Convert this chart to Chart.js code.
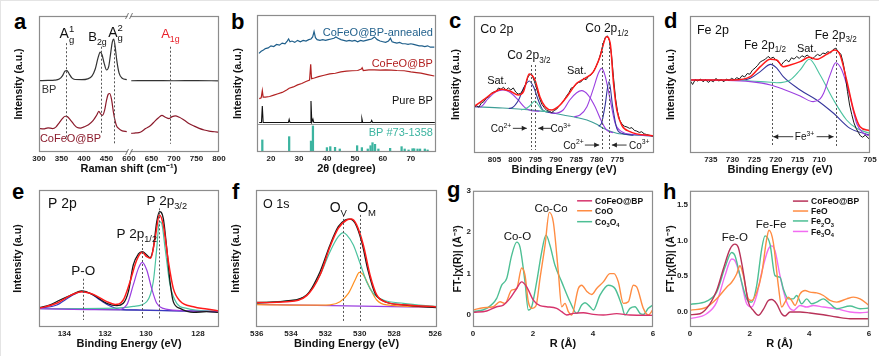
<!DOCTYPE html>
<html><head><meta charset="utf-8">
<script src="https://cdn.jsdelivr.net/npm/chart.js@4.4.1/dist/chart.umd.min.js"></script>
<style>
html,body{margin:0;padding:0;background:#fff;}
body{width:879px;height:356px;position:relative;overflow:hidden;font-family:'Liberation Sans',Arial,sans-serif;}
canvas{position:absolute;}
.edge{position:absolute;left:0;top:0;width:879px;height:356px;border-top:1px solid #e4e4e4;border-left:1px solid #e4e4e4;box-sizing:border-box;}
.lt{position:absolute;font-weight:bold;font-size:22px;line-height:1;color:#000;font-family:'Liberation Sans',Arial,sans-serif;}
</style></head><body>
<div class="edge"></div>
<div class="lt" style="left:14px;top:11px">a</div>
<div class="lt" style="left:231px;top:11px">b</div>
<div class="lt" style="left:449px;top:10px">c</div>
<div class="lt" style="left:664px;top:10px">d</div>
<div class="lt" style="left:12px;top:181px">e</div>
<div class="lt" style="left:232px;top:181px">f</div>
<div class="lt" style="left:447px;top:179px">g</div>
<div class="lt" style="left:663px;top:181px">h</div>
<script>
// ---------------- DATA ----------------
// (a) Raman: x = Raman shift (cm-1), y = intensity (a.u., offset)
const aBPleft = [[300,52.5],[320,52.6],[335,52.8],[345,53.6],[352,56],[358,59.5],[362,59.8],[367,57.5],[373,54.5],[380,53.3],[395,53.2],[408,53.8],[418,56],[425,61],[431,69],[436,73.5],[440,71.5],[445,65],[450,60.3],[455,63],[459,72],[463,81],[466,83],[469,78],[473,67],[478,58],[485,54.2],[495,53.2]];
const aBPright = [[605,52.4],[650,52.5],[700,52.4],[750,52.5],[800,52.3]];
const aCoLeft = [[300,17.4],[310,17.0],[320,17.8],[330,17.2],[338,18.5],[345,21.5],[352,24.5],[358,26.3],[363,26],[370,23.5],[377,20.5],[385,18],[392,17.6],[400,18.5],[410,20],[420,23],[428,27],[433,29.8],[437,28],[441,27],[446,31],[450,38],[454,42.5],[457,43],[461,39],[466,28],[472,19.5],[478,17],[485,15.5],[495,15]];
const aCoRight = [[605,13.7],[615,14],[625,14.5],[637,17.2],[648,19.5],[657,22.5],[665,25],[673,26.9],[681,25.6],[689,24.6],[696,26],[703,26.6],[712,25.5],[722,23.5],[733,21],[745,19],[756,17.4],[767,16.2],[778,15.4],[790,14.9],[800,14.5]];
const aTicks = [300,350,400,450,600,650,700,750,800];

// (b) XRD: x = 2theta (deg)
const bAnnealed = [[15.7,72.0],[16.5,73.5],[17.3,74.5],[18.0,75.5],[19.0,76.0],[20.0,77.5],[21.0,77.0],[22.0,78.5],[23.0,78.0],[24.0,79.5],[25.0,79.0],[25.8,81.0],[26.3,82.5],[26.8,80.5],[27.5,81.0],[28.5,80.0],[29.5,81.5],[30.5,80.5],[31.5,81.5],[32.5,81.0],[33.5,82.0],[34.3,82.5],[34.9,84.0],[35.4,88.0],[35.9,83.5],[36.5,82.0],[37.5,81.5],[38.5,82.0],[39.5,81.5],[40.5,82.0],[41.5,82.5],[42.5,83.0],[43.2,84.0],[44.0,83.0],[45.0,82.0],[46.0,81.5],[47.0,81.0],[48.0,81.5],[49.0,81.0],[50.0,81.5],[51.0,80.5],[52.0,81.5],[53.0,81.0],[54.0,81.5],[55.0,82.0],[56.0,82.5],[57.0,84.0],[58.0,82.0],[59.0,81.0],[60.0,80.5],[61.0,80.0],[62.0,81.0],[62.7,83.0],[63.3,80.5],[64.0,80.0],[65.0,79.5],[66.0,80.0],[67.0,79.0],[68.0,79.0],[69.0,78.5],[70.0,79.0],[71.0,78.5],[72.0,78.0],[73.0,77.5],[74.0,77.5],[75.0,77.0],[76.0,77.5],[77.0,76.5],[78.4,76.5]];
const bCoFeO = [[15.8,39.0],[16.5,39.5],[16.9,44.8],[17.2,40.0],[18.0,40.0],[19.5,40.5],[21.0,41.5],[22.5,42.5],[24.0,43.5],[25.6,45.3],[26.5,46.5],[28.0,47.5],[29.5,49.0],[31.0,50.0],[32.5,51.5],[33.8,52.5],[34.2,64.0],[34.5,53.5],[35.5,54.0],[37.0,55.0],[39.0,56.0],[41.0,57.0],[43.0,57.5],[45.0,58.5],[47.0,59.0],[49.0,59.3],[51.0,59.5],[52.3,60.5],[52.6,61.5],[53.0,59.5],[55.0,60.0],[57.0,60.0],[59.0,59.8],[61.0,60.0],[63.0,59.8],[65.0,59.5],[67.6,59.3],[70.0,58.5],[72.0,58.0],[73.6,57.6],[76.0,56.5],[78.4,55.5]];
const bPureBP = [[15.8,21.5],[16.6,21.5],[16.9,33.6],[17.2,21.5],[26.2,21.5],[26.5,23.8],[26.8,21.5],[34.0,21.5],[34.3,37.2],[34.6,21.8],[35.0,24.0],[35.3,21.5],[52.2,21.5],[52.5,24.4],[52.8,21.5],[55.7,21.5],[56.0,23.0],[56.3,21.5],[78.6,21.5]];
const bRefSticks = [[16.9,8.8],[26.5,11.2],[34.3,8.0],[35.0,19.0],[40.0,3.2],[41.2,3.9],[42.9,3.4],[44.6,2.2],[50.8,4.6],[52.5,3.2],[54.6,2.2],[55.6,4.6],[56.3,6.8],[57.2,5.6],[58.4,2.2],[62.6,2.7],[66.7,3.9],[67.8,2.2],[69.2,1.5],[70.6,2.4],[71.2,2.4],[72.4,2.2],[73.3,2.2],[75.0,2.2],[76.0,1.5]];
const bTicks = [20,30,40,50,60,70];

// (c) Co 2p XPS: x = binding energy (eV)
const cRaw = [[810.0,33.0],[809.4,34.5],[808.8,33.5],[808.2,36.5],[807.6,37.5],[807.0,40.0],[806.4,41.0],[805.8,43.5],[805.2,44.5],[804.6,45.0],[804.0,47.5],[803.4,46.5],[802.8,48.0],[802.2,46.0],[801.6,47.5],[801.0,46.0],[800.4,47.5],[799.8,44.5],[799.2,43.0],[798.6,43.5],[798.0,46.0],[797.4,50.0],[796.8,55.5],[796.3,57.5],[795.8,57.0],[795.2,52.0],[794.6,46.0],[794.0,40.0],[793.4,35.5],[792.8,33.0],[792.2,31.0],[791.6,30.5],[791.0,29.5],[790.4,31.0],[789.8,32.0],[789.2,34.5],[788.6,36.0],[788.0,38.5],[787.4,41.5],[786.8,44.0],[786.2,47.5],[785.6,48.0],[785.0,50.5],[784.4,51.5],[783.8,52.0],[783.2,54.5],[782.6,53.5],[782.0,56.0],[781.4,57.0],[780.8,59.5],[780.2,63.0],[779.6,67.0],[779.0,73.0],[778.4,80.0],[777.9,84.5],[777.4,85.5],[776.9,82.0],[776.4,72.0],[775.9,55.0],[775.4,40.0],[774.9,30.0],[774.4,24.0],[773.8,21.0],[773.2,19.5],[772.6,19.0],[772.0,18.0],[771.4,18.5],[770.8,16.5],[770.2,16.0],[769.6,15.0],[769.0,15.5],[768.4,14.0],[767.8,13.5],[767.2,13.0],[766.0,12.0]];
const cFit = [[810.0,33.8],[807.7,38.7],[805.3,44.0],[803.2,46.5],[801.2,45.3],[799.2,42.3],[797.9,44.8],[796.5,57.7],[795.1,53.3],[793.9,41.1],[792.6,33.8],[791.0,31.4],[789.4,33.8],[787.3,41.1],[784.9,50.9],[782.9,54.5],[780.8,59.4],[779.2,70.3],[777.6,84.9],[776.7,80.0],[775.9,50.9],[775.1,31.4],[773.9,20.4],[771.9,15.6],[766.0,12.4]];
const cBackground = [[810.0,33.8],[803.0,32.8],[796.3,31.4],[792.0,30.0],[788.2,27.7],[785.0,26.0],[782.4,24.1],[780.0,21.0],[778.4,18.0],[775.1,14.4],[771.0,13.2],[766.0,12.4]];
const cSat1 = [[810.0,33.8],[808.5,33.6],[806.5,39.9],[804.5,44.8],[802.9,46.0],[800.9,43.6],[799.2,38.7],[797.6,33.3],[796.0,30.9],[794.0,30.5]];
const cPeak1 = [[801.5,32.5],[800.7,33.0],[799.1,38.7],[797.9,47.2],[796.5,52.6],[795.4,48.0],[794.3,38.7],[793.2,31.4],[791.4,29.5],[790.0,28.8]];
const cPeak2 = [[798.5,31.5],[797.4,32.3],[796.4,34.3],[795.1,38.0],[794.1,34.3],[793.2,31.0],[792.0,30.0]];
const cSat2 = [[791.5,29.5],[790.3,29.0],[788.2,31.4],[786.6,38.7],[784.9,44.0],[783.7,45.5],[782.1,42.3],[780.4,33.8],[778.8,22.9],[777.6,16.8],[776.0,14.8]];
const cPeak3 = [[785.5,26.5],[784.1,27.7],[782.4,33.8],[780.8,47.2],[779.6,58.2],[778.8,61.8],[778.0,56.9],[776.7,38.7],[775.5,21.7],[773.9,15.6],[771.0,13.5],[766.0,12.4]];
const cPeak4 = [[779.5,19.5],[778.8,22.0],[778.0,33.8],[777.0,52.1],[776.1,33.8],[775.1,18.0],[773.9,14.4],[771.0,13.0]];
const cTicks = [805,800,795,790,785,780,775];

// (d) Fe 2p XPS
const dRaw = [[739.8,53.0],[739.2,50.0],[738.6,53.5],[738.0,52.5],[737.4,54.0],[736.8,52.0],[736.2,53.5],[735.6,51.5],[735.0,53.0],[734.4,52.0],[733.8,54.5],[733.2,52.5],[732.6,53.5],[732.0,52.0],[731.4,54.0],[730.8,53.0],[730.2,54.5],[729.6,53.5],[729.0,55.0],[728.4,54.0],[727.8,56.5],[727.2,55.5],[726.6,58.0],[726.0,57.5],[725.4,60.5],[724.8,62.0],[724.2,64.0],[723.6,66.5],[723.0,67.5],[722.4,68.5],[721.8,70.5],[721.2,69.0],[720.6,70.0],[720.0,68.0],[719.4,66.5],[718.8,64.0],[718.2,66.5],[717.6,68.0],[717.0,66.5],[716.4,69.5],[715.8,68.5],[715.2,70.5],[714.6,69.0],[714.0,71.0],[713.4,70.0],[712.8,71.5],[712.2,70.0],[711.6,68.5],[711.0,70.5],[710.4,72.0],[709.8,71.0],[709.2,73.0],[708.6,72.5],[708.0,74.0],[707.4,73.0],[706.8,75.5],[706.2,76.5],[705.6,74.0],[705.0,72.0],[704.5,66.0],[704.0,57.0],[703.5,45.0],[703.0,35.0],[702.5,28.0],[702.0,22.0],[701.5,18.0],[701.0,15.0],[700.5,12.5],[700.0,11.5],[699.4,13.0],[698.4,10.0]];
const dFit = [[739.8,53.3],[729.8,53.3],[725.9,55.7],[723.6,63.0],[721.3,68.4],[719.8,67.9],[718.3,63.0],[716.7,64.2],[714.4,66.7],[712.3,69.8],[710.6,68.4],[708.3,72.0],[706.4,75.2],[705.2,71.5],[703.7,53.3],[702.1,31.4],[700.6,19.2],[698.4,16.3]];
const dPeak32 = [[739.8,53.3],[733.0,53.0],[725.9,52.1],[721.0,49.5],[718.3,46.5],[714.4,41.6],[711.4,37.5],[709.8,39.5],[709.0,43.6],[707.5,57.0],[706.2,65.9],[704.8,60.6],[702.9,41.1],[701.4,21.7],[699.8,14.4],[698.4,12.4]];
const dPeak12 = [[739.8,53.3],[727.5,53.3],[725.9,54.5],[723.6,59.4],[721.2,64.7],[719.8,62.0],[718.3,55.7],[714.4,46.0],[710.6,38.7],[706.7,29.0],[702.9,18.0],[699.8,14.4],[698.4,13.1]];
const dSat = [[728.0,53.3],[725.9,52.6],[722.0,51.8],[719.8,51.3],[716.7,53.3],[714.4,60.6],[712.3,68.4],[709.8,57.0],[706.7,38.7],[703.7,24.1],[701.4,18.0],[698.4,14.4]];
const dTicks = [735,730,725,720,715,710,705];

// (e) P 2p XPS
const eRaw = [[135.24,14.1],[134.70,16.1],[134.21,19.7],[133.72,22.9],[133.15,26.3],[132.58,23.4],[131.92,17.3],[131.43,15.6],[131.11,17.3],[130.86,25.8],[130.62,45.3],[130.37,53.3],[130.18,55.0],[129.96,52.6],[129.80,50.6],[129.64,57.4],[129.47,76.9],[129.34,84.2],[129.15,79.3],[128.98,57.4],[128.82,33.1],[128.66,18.5],[128.33,13.6],[127.67,10.7],[127.02,11.2],[126.42,10.7]];
const eFit = [[135.24,13.6],[134.37,17.3],[133.72,22.9],[133.15,25.8],[132.58,23.8],[131.92,18.5],[131.51,16.5],[131.11,19.7],[130.78,33.1],[130.45,48.9],[130.18,54.5],[129.96,51.3],[129.77,50.1],[129.55,64.7],[129.34,81.8],[129.15,74.5],[128.90,47.7],[128.66,28.2],[128.33,19.0],[127.67,14.8],[127.02,13.1],[126.42,11.7]];
const eBackground = [[135.24,13.6],[126.42,11.2]];
const ePO = [[135.24,13.6],[134.37,16.1],[133.72,22.1],[133.15,25.8],[132.74,24.6],[132.25,19.7],[131.76,15.3],[131.27,12.9],[130.29,12.4],[126.42,11.2]];
const eP12 = [[135.24,13.4],[131.43,12.6],[130.94,16.1],[130.62,30.7],[130.37,42.8],[130.18,47.2],[129.96,41.6],[129.72,28.2],[129.47,17.3],[129.15,13.6],[128.3,12.0],[126.42,11.2]];
const eP32 = [[135.24,13.4],[131.5,13.8],[130.62,15.0],[129.96,18.5],[129.64,33.1],[129.47,57.4],[129.34,76.9],[129.23,75.7],[129.06,57.4],[128.82,30.7],[128.49,17.3],[128.00,13.6],[126.42,11.2]];
const eTicks = [134,132,130,128];

// (f) O 1s XPS
const fRaw = [[536.04,17.5],[534.25,19.0],[533.09,23.4],[532.31,40.4],[531.73,59.9],[531.25,73.2],[530.86,78.1],[530.57,78.8],[530.27,75.7],[529.89,62.3],[529.50,40.4],[529.11,24.6],[528.62,19.0],[527.46,16.1],[525.5,14.1]];
const fFit = [[536.04,17.8],[534.25,18.5],[533.09,22.9],[532.31,38.0],[531.73,58.6],[531.25,72.0],[530.76,78.1],[530.47,78.8],[530.18,74.5],[529.79,59.9],[529.40,38.0],[529.01,23.4],[528.43,18.0],[527.27,16.1],[525.5,14.6]];
const fBackground = [[536.04,16.5],[525.5,14.3]];
const fOV = [[536.04,18.0],[534.25,19.0],[533.09,23.4],[532.31,38.0],[531.73,55.0],[531.25,65.9],[530.95,68.9],[530.76,67.2],[530.37,59.9],[529.98,46.5],[529.60,33.1],[529.21,24.6],[528.62,19.7],[527.46,17.3],[525.5,14.8]];
const fOM = [[536.04,16.4],[532.3,15.9],[531.73,16.2],[531.15,18.5],[530.66,24.6],[530.27,34.3],[530.02,39.9],[529.79,38.0],[529.40,28.2],[529.01,19.7],[528.43,16.1],[525.5,14.6]];
const fTicks = [536,534,532,530,528,526];

// (g) Co K-edge EXAFS: x = R (Å), y = FT magnitude
const gCoFeO = [[0,0.064],[0.456,0.096],[0.789,0.2],[1.011,0.24],[1.233,0.4],[1.456,0.64],[1.622,0.8],[1.789,0.68],[2.011,0.36],[2.233,0.224],[2.456,0.2],[2.789,0.16],[2.956,0.08],[3.122,0],[3.344,0.04],[3.678,0.056],[4.011,0.016],[4.344,0],[4.789,0.032],[5.233,0],[6,-0.008]];
const gCoO = [[0,0.12],[0.344,0.176],[0.678,0.2],[0.9,0.32],[1.067,0.28],[1.289,0.6],[1.456,0.64],[1.622,1.135],[1.733,0.96],[1.844,0.32],[1.956,0.16],[2.1,0.224],[2.233,0.88],[2.4,1.68],[2.544,2.48],[2.678,2.24],[2.844,1.04],[2.956,0.2],[3.067,0.28],[3.178,0.08],[3.289,0],[3.511,0.64],[3.622,0.72],[3.789,0.576],[3.956,0.496],[4.122,0.64],[4.344,0.8],[4.567,1.0],[4.7,1.0],[4.844,0.8],[5.011,0.28],[5.178,0.32],[5.344,0.72],[5.456,0.68],[5.678,0.16],[5.844,0],[5.989,0.12]];
const gCo3O4 = [[0,0.08],[0.456,0.16],[0.789,0.4],[0.956,0.72],[1.122,0.88],[1.289,1.44],[1.456,1.76],[1.567,1.64],[1.733,0.8],[1.844,0.12],[1.956,0.2],[2.122,0.8],[2.289,1.52],[2.433,1.93],[2.567,1.68],[2.733,1.2],[2.956,0.8],[3.233,0.32],[3.456,0.04],[3.622,0.24],[3.733,0.296],[3.9,0.2],[4.011,0.12],[4.233,0.48],[4.511,0.72],[4.733,0.64],[4.956,0.24],[5.067,0],[5.233,0.16],[5.4,0.2],[5.567,0.04],[5.678,0.016],[5.844,0.16],[5.989,0.24]];
const gXTicks = [0,2,4,6];
const gYTicks = [0,1,2,3];

// (h) Fe K-edge EXAFS
const hCoFeO = [[0,-0.047],[0.335,-0.033],[0.67,0.107],[0.894,0.294],[1.117,0.598],[1.341,0.878],[1.508,0.948],[1.62,0.901],[1.788,0.551],[1.955,0.131],[2.123,0.014],[2.291,-0.056],[2.458,0.028],[2.626,0.154],[2.738,0.168],[2.905,0.107],[3.073,-0.033],[3.185,-0.065],[3.352,-0.009],[3.688,-0.009],[4.023,-0.023],[4.47,-0.047],[4.917,-0.079],[5.364,-0.103],[6,-0.103]];
const hFeO = [[0,0.014],[0.559,0.061],[0.894,0.177],[1.229,0.341],[1.397,0.411],[1.564,0.528],[1.676,0.644],[1.788,0.504],[1.955,0.177],[2.067,0.154],[2.235,0.271],[2.403,0.528],[2.57,1.018],[2.648,1.144],[2.793,0.971],[2.961,0.364],[3.073,0.061],[3.185,0.131],[3.296,0.201],[3.408,0.154],[3.52,0.084],[3.688,0.247],[3.855,0.294],[4.023,0.271],[4.247,0.261],[4.47,0.224],[4.694,0.154],[4.917,0.131],[5.252,0.177],[5.476,0.201],[5.7,0.177],[6,0.084]];
const hFe2O3 = [[0,0.098],[0.559,0.145],[0.894,0.271],[1.173,0.621],[1.397,0.831],[1.508,0.784],[1.676,0.504],[1.9,0.177],[2.067,0.131],[2.235,0.364],[2.403,0.878],[2.514,1.064],[2.682,0.947],[2.849,0.504],[3.017,0.481],[3.129,0.317],[3.296,0.177],[3.464,0.177],[3.576,0.224],[3.743,0.107],[3.911,0.177],[4.079,0.107],[4.247,0.131],[4.47,0.177],[4.694,0.107],[4.917,0.037],[5.364,0.075],[5.7,0.037],[6,0.047]];
const hFe3O4 = [[0,-0.103],[0.559,-0.033],[0.894,0.131],[1.173,0.504],[1.397,0.738],[1.508,0.714],[1.676,0.504],[1.9,0.107],[2.067,0.061],[2.235,0.224],[2.403,0.551],[2.626,0.878],[2.738,0.924],[2.849,0.854],[3.017,0.504],[3.24,0.131],[3.464,0.014],[3.688,0.084],[3.911,0.061],[4.135,0.084],[4.47,0.061],[4.917,0.037],[5.364,-0.009],[5.7,-0.019],[6,-0.009]];
const hXTicks = [0,2,4,6];
const hYTicks = [0,0.5,1.0,1.5];

// ---------------- RENDERING ----------------
const NARROW = "'Liberation Sans Narrow','Arial Narrow','Liberation Sans',Arial,sans-serif";
const SANS = "'Liberation Sans',Arial,sans-serif";
const ANN = {};

function parseRich(s){
  const out=[]; let i=0, buf='';
  while(i<s.length){
    const c=s[i];
    if((c==='_'||c==='^') && s[i+1]==='{'){
      const j=s.indexOf('}',i); const inner=s.slice(i+2,j);
      if(buf){out.push({t:buf,k:'n'});buf='';}
      const last=out[out.length-1];
      if(last && last.k!=='n' && last.k!==c && !last.pair) last.pair={k:c,t:inner};
      else out.push({t:inner,k:c});
      i=j+1;
    } else {buf+=c;i++;}
  }
  if(buf) out.push({t:buf,k:'n'});
  return out;
}
function drawRich(ctx,s,x,y,size,weight,color,align){
  const segs=parseRich(s); const small=size*0.68;
  const fn=sz=>`${weight} ${sz}px ${SANS}`;
  let w=0; const ws=[];
  segs.forEach(g=>{ctx.font=fn(g.k==='n'?size:small); let sw=ctx.measureText(g.t).width; if(g.pair) sw=Math.max(sw,ctx.measureText(g.pair.t).width); ws.push(sw); w+=sw;});
  let cx = align==='left'?x:(align==='right'?x-w:x-w/2);
  ctx.fillStyle=color; ctx.textBaseline='alphabetic'; ctx.textAlign='left';
  const base=y+size*0.36;
  segs.forEach((g,i)=>{
    const dr=(k,t)=>{ctx.font=fn(k==='n'?size:small); const dy=k==='_'?size*0.3:(k==='^'?-size*0.42:0); ctx.fillText(t,cx,base+dy);};
    dr(g.k,g.t); if(g.pair) dr(g.pair.k,g.pair.t);
    cx+=ws[i];
  });
}
const annot = {
  id:'annot',
  afterDatasetsDraw(chart){
    const o=ANN[chart.canvas.id]||{}; const ctx=chart.ctx, xs=chart.scales.x, ys=chart.scales.y, ca=chart.chartArea;
    const X=v=>xs.getPixelForValue(v), Y=v=>ys.getPixelForValue(v);
    ctx.save();
    (o.hlines||[]).forEach(h=>{ctx.strokeStyle=h.c;ctx.lineWidth=1;ctx.beginPath();const py=Math.round(Y(h.y))+0.5;ctx.moveTo(ca.left,py);ctx.lineTo(ca.right,py);ctx.stroke();});
    (o.vlines||[]).forEach(l=>{ctx.strokeStyle='#555';ctx.lineWidth=1;ctx.setLineDash([2,2]);ctx.beginPath();const px=Math.round(X(l.x))+0.5;ctx.moveTo(px,Y(l.y0));ctx.lineTo(px,Y(l.y1));ctx.stroke();});
    ctx.setLineDash([]);
    (o.arrows||[]).forEach(a=>{const xa=X(a.x0),xb=X(a.x1),py=Y(a.y);ctx.strokeStyle='#222';ctx.fillStyle='#222';ctx.lineWidth=0.9;ctx.beginPath();ctx.moveTo(xa,py);ctx.lineTo(xb,py);ctx.stroke();const d=xb>xa?1:-1;ctx.beginPath();ctx.moveTo(xb,py);ctx.lineTo(xb-d*5,py-2.5);ctx.lineTo(xb-d*5,py+2.5);ctx.closePath();ctx.fill();});
    (o.texts||[]).forEach(t=>drawRich(ctx,t.s,X(t.x),Y(t.y),t.size||12,t.w||'normal',t.c||'#111',t.a||'center'));
    (o.legend||[]).forEach(g=>{ctx.strokeStyle=g.c;ctx.lineWidth=1.5;ctx.beginPath();ctx.moveTo(X(g.x0),Y(g.y));ctx.lineTo(X(g.x1),Y(g.y));ctx.stroke();drawRich(ctx,g.s,X(g.xt),Y(g.y),8.5,'bold','#111','left');});
    ctx.restore();
  },
  afterDraw(chart){
    const o=ANN[chart.canvas.id]||{}; const ctx=chart.ctx, ca=chart.chartArea;
    ctx.save(); ctx.strokeStyle='#8c8c8c'; ctx.lineWidth=1.2;
    ctx.strokeRect(ca.left+0.5,ca.top+0.5,ca.width-1,ca.height-1);
    if(o.brk!=null){
      const px=chart.scales.x.getPixelForValue(o.brk);
      [ca.top,ca.bottom].forEach(py=>{ctx.fillStyle='#fff';ctx.fillRect(px-1.5,py-2,3,4);ctx.strokeStyle='#555';ctx.lineWidth=0.8;ctx.beginPath();ctx.moveTo(px-3.5,py+3);ctx.lineTo(px-0.5,py-3);ctx.moveTo(px+0.5,py+3);ctx.lineTo(px+3.5,py-3);ctx.stroke();});
    }
    ctx.restore();
  }
};

function L(arr,color,w,fx,smooth){
  const ds={type:'line',data:arr.map(p=>({x:fx?fx(p[0]):p[0],y:p[1]})),borderColor:color,backgroundColor:color,borderWidth:w,pointRadius:0,fill:false};
  if(smooth===false){ds.tension=0;} else {ds.cubicInterpolationMode='monotone';}
  return ds;
}

function panel(id,cfg){
  const [x0,y0,x1,y1]=cfg.box;
  const ylh=10.5*1.2;
  const left=Math.round(cfg.ytc-ylh/2);
  const W=x0-left, top=y0-6, right=x1+12, bottom=y1+24;
  const cv=document.createElement('canvas'); cv.id=id;
  cv.width=right-left; cv.height=bottom-top;
  cv.style.left=left+'px'; cv.style.top=top+'px';
  cv.style.width=(right-left)+'px'; cv.style.height=(bottom-top)+'px';
  document.body.appendChild(cv);
  ANN[id]=cfg.ann||{};
  const tickFont={family:NARROW,weight:'bold',size:8};
  new Chart(cv,{
    type:'line',
    data:{datasets:cfg.datasets},
    plugins:[annot],
    options:{
      responsive:false,animation:false,devicePixelRatio:1,
      layout:{padding:{left:0,top:6,right:12,bottom:0}},
      plugins:{legend:{display:false},tooltip:{enabled:false}},
      scales:{
        x:{type:'linear',min:cfg.xmin,max:cfg.xmax,reverse:!!cfg.rev,offset:false,
          grid:{display:false,drawTicks:false},border:{display:false},
          ticks:{font:tickFont,color:'#222',padding:1.5,maxRotation:0,autoSkip:false,callback:(v,i)=>cfg.xl[i]},
          title:{display:true,text:cfg.xtitle,font:{family:NARROW,weight:'bold',size:11},color:'#111',padding:0},
          afterBuildTicks:s=>{s.ticks=cfg.xt.map(v=>({value:v}));},
          afterFit:s=>{s.height=24;}
        },
        y:{type:'linear',min:cfg.ymin,max:cfg.ymax,
          grid:{display:false,drawTicks:false},border:{display:false},
          ticks:{display:!!cfg.yt,font:tickFont,color:'#222',padding:2,callback:(v,i)=>cfg.yl?cfg.yl[i]:''},
          title:{display:true,text:cfg.ytitle,font:{family:SANS,weight:'bold',size:10.5},color:'#111',padding:0},
          afterBuildTicks:s=>{if(cfg.yt) s.ticks=cfg.yt.map(v=>({value:v}));},
          afterFit:s=>{s.width=W;}
        }
      }
    }
  });
}

const tA = x => x<=550 ? x : x-100; // broken axis (500 | 600)
const BLK='#1a1a1a', RED='#ff1a1a', PUR='#9b3fe0', NAVY='#36369c', TEAL='#4cc3a0', ORG='#ff9020';

// (a)
panel('pa',{box:[39,16,219,152],ytc:19,xmin:300,xmax:700,xt:aTicks.map(tA),xl:aTicks.map(String),ymin:0,ymax:100,
  xtitle:'Raman shift (cm⁻¹)',ytitle:'Intensity (a.u.)',
  datasets:[L(aBPleft,'#333',1.2,tA),L(aBPright,'#333',1.2,tA),L(aCoLeft,'#8b1a2b',1.2,tA),L(aCoRight,'#8b1a2b',1.2,tA)],
  ann:{brk:500,
    vlines:[{x:tA(361),y0:80,y1:8.8},{x:tA(437),y0:77.4,y1:13.7},{x:tA(466),y0:81.4,y1:6.1},{x:tA(692),y0:77.4,y1:6.1}],
    texts:[{s:'A_{g}^{1}',x:tA(362),y:87.3,size:14},{s:'B_{2g}',x:tA(430),y:84.8,size:13},{s:'A_{g}^{2}',x:tA(470),y:88.5,size:14},
      {s:'A_{1g}',x:tA(692),y:87.3,size:13,c:'#e8202a'},{s:'BP',x:tA(306),y:46,size:11,a:'left',c:'#333'},{s:'CoFeO@BP',x:tA(302),y:10,size:11,a:'left',c:'#8b1a2b'}]}
});

// (b)
panel('pb',{box:[257,15,436,152],ytc:238.3,xmin:15,xmax:79,xt:bTicks,xl:bTicks.map(String),ymin:0,ymax:100,
  xtitle:'2θ (degree)',ytitle:'Intensity (a.u.)',
  datasets:[L(bAnnealed,'#1f5f8b',1.2,null,false),L(bCoFeO,'#b22222',1.2,null,false),L(bPureBP,'#111',1.1,null,false),
    {type:'bar',data:bRefSticks.map(p=>({x:p[0],y:p[1]})),backgroundColor:'#3cb4a0',barThickness:1.6,borderWidth:0}],
  ann:{hlines:[{y:20.2,c:'#9a9a9a'}],
    texts:[{s:'CoFeO@BP-annealed',x:77.9,y:87.4,size:11,a:'right',c:'#1f5f8b'},{s:'CoFeO@BP',x:77.9,y:64.7,size:11,a:'right',c:'#b22222'},
      {s:'Pure BP',x:77.9,y:38,size:11,a:'right',c:'#111'},{s:'BP #73-1358',x:77.9,y:14.8,size:11,a:'right',c:'#3cb4a0'}]}
});

// (c)
panel('pc',{box:[474,16,654,153],ytc:456.7,xmin:766,xmax:810,rev:true,xt:cTicks,xl:cTicks.map(String),ymin:0,ymax:100,
  xtitle:'Binding Energy (eV)',ytitle:'Intensity (a.u.)',
  datasets:[L(cFit,RED,1.5),L(cRaw,BLK,1,null,false),L(cPeak4,NAVY,1.1),L(cPeak3,PUR,1.1),L(cSat2,PUR,1.1),L(cPeak2,TEAL,1.1),L(cPeak1,NAVY,1.1),L(cSat1,PUR,1.1),L(cBackground,'#3d9e96',1.1)],
  ann:{vlines:[{x:796.1,y0:64.2,y1:2.2},{x:795.0,y0:64.2,y1:2.2},{x:778.8,y0:80.3,y1:2.2},{x:776.9,y0:80.3,y1:2.2}],
    arrows:[{x0:800.5,x1:797.1,y:18},{x0:791,x1:794.3,y:18},{x0:782.9,x1:779.4,y:5.8},{x0:772.7,x1:776.3,y:5.8}],
    texts:[{s:'Co 2p',x:808.5,y:91.2,size:12.5,a:'left'},{s:'Co 2p_{1/2}',x:777.5,y:91.5,size:12},{s:'Co 2p_{3/2}',x:796.6,y:71.5,size:12},
      {s:'Sat.',x:804.4,y:53.3,size:11},{s:'Sat.',x:784.9,y:60.6,size:11},
      {s:'Co^{2+}',x:803.4,y:18,size:10},{s:'Co^{3+}',x:788.8,y:18,size:10},{s:'Co^{2+}',x:785.7,y:5.8,size:10},{s:'Co^{3+}',x:769.6,y:5.8,size:10}]}
});

// (d)
panel('pd',{box:[690,16,870,153],ytc:671.7,xmin:698.3,xmax:739.8,rev:true,xt:[735,730,725,720,715,710,698.3],xl:dTicks.map(String),ymin:0,ymax:100,
  xtitle:'Binding Energy (eV)',ytitle:'Intensity (a.u.)',
  datasets:[L(dFit,RED,1.5),L(dRaw,BLK,1,null,false),L(dPeak32,PUR,1.1),L(dSat,TEAL,1.1),L(dPeak12,NAVY,1.1)],
  ann:{vlines:[{x:720.95,y0:65.7,y1:5.1},{x:706.2,y0:82.5,y1:5.1}],
    arrows:[{x0:716.0,x1:720.6,y:11.9},{x0:710.6,x1:706.7,y:11.9}],
    texts:[{s:'Fe 2p',x:738.2,y:90.5,size:12.5,a:'left'},{s:'Fe 2p_{1/2}',x:722.5,y:79.3,size:12},{s:'Sat.',x:712.9,y:76.4,size:11},
      {s:'Fe 2p_{3/2}',x:706.2,y:86.6,size:12},{s:'Fe^{3+}',x:713.4,y:11.9,size:10}]}
});

// (e)
panel('pe',{box:[39,190,219,327],ytc:18.3,xmin:126.42,xmax:135.24,rev:true,xt:[134,132,130,127.45],xl:eTicks.map(String),ymin:0,ymax:100,
  xtitle:'Binding Energy (eV)',ytitle:'Intensity (a.u)',
  datasets:[L(eFit,RED,1.5),L(eRaw,BLK,1.3),L(eP12,PUR,1.2),L(eP32,TEAL,1.2),L(ePO,'#3838c0',1.2),L(eBackground,'#5a50b0',1.1)],
  ann:{vlines:[{x:133.1,y0:35.2,y1:5.1},{x:130.18,y0:63.5,y1:5.1},{x:129.34,y0:86.6,y1:5.1}],
    texts:[{s:'P 2p',x:134.8,y:90.5,size:14,a:'left'},{s:'P 2p_{1/2}',x:130.45,y:68.4,size:13.5},{s:'P 2p_{3/2}',x:128.98,y:92.7,size:13.5},{s:'P-O',x:133.07,y:41.5,size:13.5}]}
});

// (f)
panel('pf',{box:[256,190,437,327],ytc:236.7,xmin:525.5,xmax:536.04,rev:true,xt:[536,534,532,530,528,525.6],xl:fTicks.map(String),ymin:0,ymax:100,
  xtitle:'Binding Energy (eV)',ytitle:'Intensity (a.u)',
  datasets:[L(fFit,RED,1.5),L(fRaw,BLK,1.3),L(fOV,TEAL,1.2),L(fOM,ORG,1.2),L(fBackground,PUR,1.2)],
  ann:{vlines:[{x:531.0,y0:81.8,y1:3.9},{x:529.98,y0:81.8,y1:3.9}],
    texts:[{s:'O 1s',x:535.63,y:90.5,size:12.5,a:'left'},{s:'O_{V}',x:531.25,y:87.8,size:14},{s:'O_{M}',x:529.6,y:87.8,size:14}]}
});

// (g)
panel('pg',{box:[473,190,653,327],ytc:458.3,xmin:0,xmax:6,xt:gXTicks,xl:gXTicks.map(String),ymin:-0.29,ymax:3,yt:gYTicks,yl:gYTicks.map(String),
  xtitle:'R (Å)',ytitle:'FT-|χ(R)| (Å⁻³)',
  datasets:[L(gCoFeO,'#d6336c',1.4),L(gCoO,'#ff8c42',1.4),L(gCo3O4,'#4dbf94',1.4)],
  ann:{texts:[{s:'Co-Co',x:2.6,y:2.59,size:11.5},{s:'Co-O',x:1.48,y:1.92,size:11.5}],
    legend:[{s:'CoFeO@BP',c:'#d6336c',x0:3.47,x1:3.97,xt:4.07,y:2.758},{s:'CoO',c:'#ff8c42',x0:3.47,x1:3.97,xt:4.07,y:2.518},{s:'Co_{3}O_{4}',c:'#4dbf94',x0:3.47,x1:3.97,xt:4.07,y:2.254}]}
});

// (h)
panel('ph',{box:[690,190,869,327],ytc:671.7,xmin:0,xmax:6,xt:hXTicks,xl:hXTicks.map(String),ymin:-0.22,ymax:1.7,yt:hYTicks,yl:hYTicks.map(v=>v.toFixed(1)),
  xtitle:'R (Å)',ytitle:'FT-|χ(R)| (Å⁻³)',
  datasets:[L(hCoFeO,'#b83259',1.4),L(hFeO,'#ff8c42',1.4),L(hFe2O3,'#4dbf94',1.4),L(hFe3O4,'#f26cf2',1.4)],
  ann:{texts:[{s:'Fe-Fe',x:2.72,y:1.23,size:11.5},{s:'Fe-O',x:1.5,y:1.05,size:11.5}],
    legend:[{s:'CoFeO@BP',c:'#b83259',x0:3.45,x1:3.96,xt:4.06,y:1.555},{s:'FeO',c:'#ff8c42',x0:3.45,x1:3.96,xt:4.06,y:1.415},{s:'Fe_{2}O_{3}',c:'#4dbf94',x0:3.45,x1:3.96,xt:4.06,y:1.275},{s:'Fe_{3}O_{4}',c:'#f26cf2',x0:3.45,x1:3.96,xt:4.06,y:1.127}]}
});
</script>
</body></html>
